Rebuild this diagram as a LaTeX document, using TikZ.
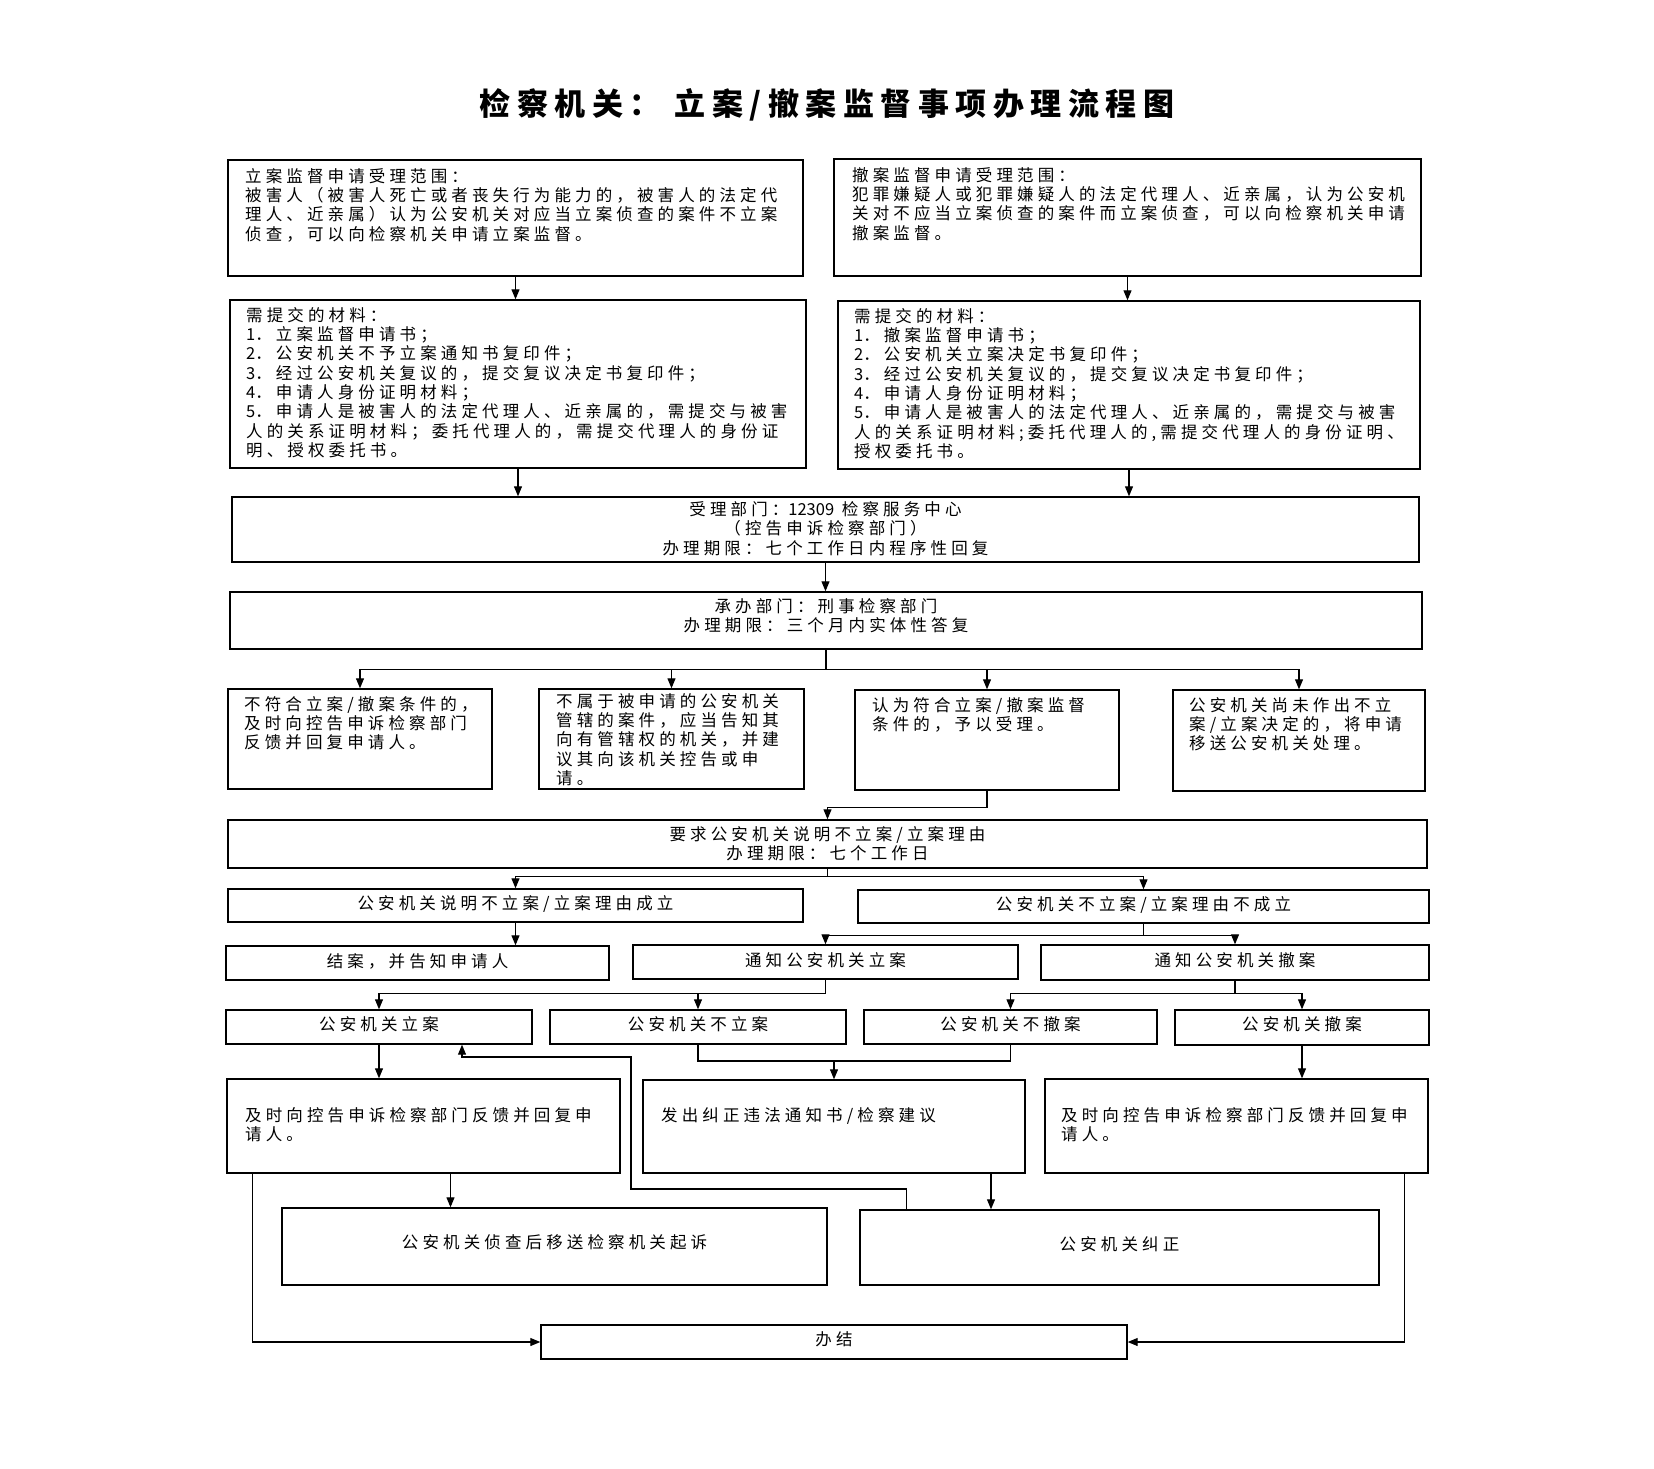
\documentclass[tikz,border=0pt]{standalone}
\usepackage{fontspec}
\usetikzlibrary{arrows.meta,fit,calc}
\newfontfamily\cjk[LetterSpace=25]{Noto Sans CJK SC}
\newfontfamily\cjkn{Noto Sans CJK SC}
\newfontfamily\cjktitle[LetterSpace=21]{Noto Sans CJK SC}
\begin{document}
\begin{tikzpicture}[x=1pt,y=-1pt,
  box/.style={draw, line width=1.4pt, inner sep=0pt},
  txt/.style={inner sep=0pt, align=left, anchor=north west, font=\cjk\fontsize{16.5}{19.3}\selectfont},
  txtc/.style={inner sep=0pt, align=center, font=\cjk\fontsize{16.5}{19.3}\selectfont},
  arr/.style={line width=1.1pt, -{Triangle[length=10pt,width=8pt]}},
  ln/.style={line width=1.1pt}]
\fill[white] (0,0) rectangle (1654,1469);
\path[use as bounding box] (0,0) rectangle (1654,1469);

\node[inner sep=0pt, font=\cjktitle\bfseries\fontsize{31}{36}\selectfont] (title) at (827,105) {检察机关：\ 立案/撤案监督事项办理流程图};

% boxes
\node[box, fit={(228,160) (803,276)}] (A) {};
\node[box, fit={(834,159) (1421,276)}] (B) {};
\node[box, fit={(230,300) (806,468)}] (C) {};
\node[box, fit={(838,301) (1420,469)}] (D) {};
\node[box, fit={(232,497) (1419,562)}] (E) {};
\node[box, fit={(230,592) (1422,649)}] (F) {};
\node[box, fit={(228,689) (492,789)}] (G1) {};
\node[box, fit={(539,689) (804,789)}] (G2) {};
\node[box, fit={(855,690) (1119,790)}] (G3) {};
\node[box, fit={(1173,690) (1425,791)}] (G4) {};
\node[box, fit={(228,820) (1427,868)}] (H) {};
\node[box, fit={(228,889) (803,922)}] (I1) {};
\node[box, fit={(858,890) (1429,923)}] (I2) {};
\node[box, fit={(226,946) (609,980)}] (J1) {};
\node[box, fit={(633,945) (1018,979)}] (J2) {};
\node[box, fit={(1041,945) (1429,980)}] (J3) {};
\node[box, fit={(226,1010) (532,1044)}] (K1) {};
\node[box, fit={(550,1010) (846,1044)}] (K2) {};
\node[box, fit={(864,1010) (1157,1044)}] (K3) {};
\node[box, fit={(1175,1010) (1429,1045)}] (K4) {};
\node[box, fit={(227,1079) (620,1173)}] (L1) {};
\node[box, fit={(643,1080) (1025,1173)}] (L2) {};
\node[box, fit={(1045,1079) (1428,1173)}] (L3) {};
\node[box, fit={(282,1208) (827,1285)}] (M1) {};
\node[box, fit={(860,1210) (1379,1285)}] (M2) {};
\node[box, fit={(541,1325) (1127,1359)}] (N) {};

% texts
\node[txt] (At) at (245,168) {立案监督申请受理范围：\\被害人（被害人死亡或者丧失行为能力的，被害人的法定代\\理人、近亲属）认为公安机关对应当立案侦查的案件不立案\\侦查，可以向检察机关申请立案监督。};
\node[txt] (Bt) at (852,167) {撤案监督申请受理范围：\\犯罪嫌疑人或犯罪嫌疑人的法定代理人、近亲属，认为公安机\\关对不应当立案侦查的案件而立案侦查，可以向检察机关申请\\撤案监督。};
\node[txt] (Ct) at (246,307) {需提交的材料：\\{\cjkn 1}．立案监督申请书；\\{\cjkn 2}．公安机关不予立案通知书复印件；\\{\cjkn 3}．经过公安机关复议的，提交复议决定书复印件；\\{\cjkn 4}．申请人身份证明材料；\\{\cjkn 5}．申请人是被害人的法定代理人、近亲属的，需提交与被害\\人的关系证明材料；委托代理人的，需提交代理人的身份证\\明、授权委托书。};
\node[txt] (Dt) at (854,308) {需提交的材料：\\{\cjkn 1}．撤案监督申请书；\\{\cjkn 2}．公安机关立案决定书复印件；\\{\cjkn 3}．经过公安机关复议的，提交复议决定书复印件；\\{\cjkn 4}．申请人身份证明材料；\\{\cjkn 5}．申请人是被害人的法定代理人、近亲属的，需提交与被害\\人的关系证明材料;委托代理人的,需提交代理人的身份证明、\\授权委托书。};
\node[txtc] (Et) at ($(E.center)+(0,-1)$) {受理部门：{\cjkn 12309} 检察服务中心\\（控告申诉检察部门）\\办理期限：七个工作日内程序性回复};
\node[txtc] (Ft) at ($(F.center)+(0,-5)$) {承办部门：刑事检察部门\\办理期限：三个月内实体性答复};
\node[txt] (G1t) at (244,696) {不符合立案/撤案条件的，\\及时向控告申诉检察部门\\反馈并回复申请人。};
\node[txt] (G2t) at (556,693) {不属于被申请的公安机关\\管辖的案件，应当告知其\\向有管辖权的机关，并建\\议其向该机关控告或申\\请。};
\node[txt] (G3t) at (872,697) {认为符合立案/撤案监督\\条件的，予以受理。};
\node[txt] (G4t) at (1189,697) {公安机关尚未作出不立\\案/立案决定的，将申请\\移送公安机关处理。};
\node[txtc] (Ht) at (H.center) {要求公安机关说明不立案/立案理由\\办理期限：七个工作日};
\node[txtc] (I1t) at ($(I1.center)+(0,-2)$) {公安机关说明不立案/立案理由成立};
\node[txtc] (I2t) at ($(I2.center)+(0,-2)$) {公安机关不立案/立案理由不成立};
\node[txtc] (J1t) at ($(J1.center)+(0,-2)$) {结案，并告知申请人};
\node[txtc] (J2t) at ($(J2.center)+(0,-2)$) {通知公安机关立案};
\node[txtc] (J3t) at ($(J3.center)+(0,-2)$) {通知公安机关撤案};
\node[txtc] (K1t) at ($(K1.center)+(0,-3)$) {公安机关立案};
\node[txtc] (K2t) at ($(K2.center)+(0,-3)$) {公安机关不立案};
\node[txtc] (K3t) at ($(K3.center)+(0,-3)$) {公安机关不撤案};
\node[txtc] (K4t) at ($(K4.center)+(0,-3)$) {公安机关撤案};
\node[txt] (L1t) at (245,1107) {及时向控告申诉检察部门反馈并回复申\\请人。};
\node[txt] (L2t) at (661,1107) {发出纠正违法通知书/检察建议};
\node[txt] (L3t) at (1061,1107) {及时向控告申诉检察部门反馈并回复申\\请人。};
\node[txtc] (M1t) at ($(M1.center)+(0,-4)$) {公安机关侦查后移送检察机关起诉};
\node[txtc] (M2t) at ($(M2.center)+(0,-3)$) {公安机关纠正};
\node[txtc] (Nt) at ($(N.center)+(0,-3)$) {办结};

% connectors
\draw[arr] (A.south) -- (A.south |- C.north);
\draw[arr] (B.south) -- (B.south |- D.north);
\draw[arr] (C.south) -- (C.south |- E.north);
\draw[arr] (D.south) -- (D.south |- E.north);
\draw[arr] (E.south) -- (E.south |- F.north);

\draw[ln] (F.south) -- ++(0,20) coordinate (fj);
\draw[arr] (fj) -| (G1.north);
\draw[arr] (fj) -| (G2.north);
\draw[arr] (fj) -| (G3.north);
\draw[arr] (fj) -| (G4.north);

\draw[arr] (G3.south) -- ++(0,17) -| (H.north);

\draw[ln] (H.south) -- ++(0,8) coordinate (hj);
\draw[arr] (hj) -| (I1.north);
\draw[arr] (hj) -| (I2.north);

\draw[arr] (I1.south) -- (I1.south |- J1.north);
\draw[ln] (I2.south) -- ++(0,12) coordinate (ij);
\draw[arr] (ij) -| (J2.north);
\draw[arr] (ij) -| (J3.north);

\draw[ln] (J2.south) -- ++(0,14) coordinate (j2j);
\draw[arr] (j2j) -| (K1.north);
\draw[arr] (j2j) -| (K2.north);
\draw[ln] (J3.south) -- ++(0,13) coordinate (j3j);
\draw[arr] (j3j) -| (K3.north);
\draw[arr] (j3j) -| (K4.north);

\draw[arr] (K1.south) -- (K1.south |- L1.north);
\coordinate (kj) at (834,1061);
\draw[ln] (K2.south) |- (kj) -| (K3.south);
\draw[arr] (kj) -- (L2.north);
\draw[arr] (K4.south) -- (K4.south |- L3.north);

\coordinate (l1o) at ([xshift=27pt]L1.south);
\draw[arr] (l1o) -- (l1o |- M1.north);
\coordinate (l2o) at ([xshift=157pt]L2.south);
\draw[arr] (l2o) -- (l2o |- M2.north);

\coordinate (fbx) at (462,1057);
\coordinate (fbs) at ([xshift=47pt]M2.north west);
\draw[arr] (fbs) |- (631,1189) |- (fbx) -- (K1.south -| fbx);

\coordinate (l1n) at ([xshift=26pt]L1.south west);
\draw[arr] (l1n) |- (N.west);
\coordinate (l3n) at ([xshift=-24pt]L3.south east);
\draw[arr] (l3n) |- (N.east);
\end{tikzpicture}
\end{document}
